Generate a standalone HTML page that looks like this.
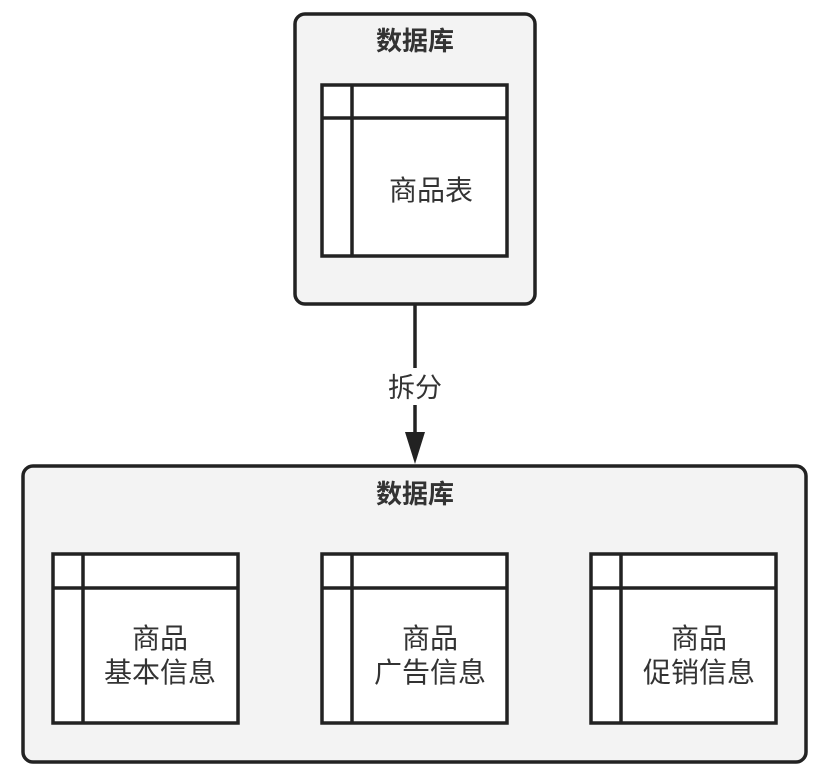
<!DOCTYPE html>
<html><head><meta charset="utf-8"><style>
body{margin:0;background:#fff;width:827px;height:780px;overflow:hidden}
svg{display:block}
text{font-family:"Liberation Sans","Noto Sans CJK SC",sans-serif;fill:#333}
</style></head><body>
<svg width="827" height="780" viewBox="0 0 827 780">
<rect x="295" y="14" width="240" height="290" rx="10" fill="#f3f3f3" stroke="#222" stroke-width="3.5"/>
<text x="415" y="50" font-size="26" font-weight="bold" text-anchor="middle" fill="#222">数据库</text>
<rect x="322" y="85" width="185" height="171" fill="#fff" stroke="#222" stroke-width="3.5"/>
<line x1="322" y1="118" x2="507" y2="118" stroke="#222" stroke-width="3.5"/>
<line x1="352" y1="85" x2="352" y2="256" stroke="#222" stroke-width="3.5"/>
<text x="431" y="200" font-size="28" text-anchor="middle">商品表</text>

<line x1="415" y1="304" x2="415" y2="368" stroke="#222" stroke-width="3.5"/>
<line x1="415" y1="405" x2="415" y2="440" stroke="#222" stroke-width="3.5"/>
<polygon points="405,432 425,432 415,464" fill="#222"/>
<text x="415" y="397" font-size="27" text-anchor="middle">拆分</text>

<rect x="23" y="466" width="783" height="296" rx="10" fill="#f3f3f3" stroke="#222" stroke-width="3.5"/>
<text x="415" y="503" font-size="26" font-weight="bold" text-anchor="middle" fill="#222">数据库</text>

<rect x="53" y="554" width="185" height="169" fill="#fff" stroke="#222" stroke-width="3.5"/>
<line x1="53" y1="588" x2="238" y2="588" stroke="#222" stroke-width="3.5"/>
<line x1="83" y1="554" x2="83" y2="723" stroke="#222" stroke-width="3.5"/>
<text x="160" y="648" font-size="28" text-anchor="middle">商品</text>
<text x="160" y="682" font-size="28" text-anchor="middle">基本信息</text>

<rect x="322" y="554" width="185" height="169" fill="#fff" stroke="#222" stroke-width="3.5"/>
<line x1="322" y1="588" x2="507" y2="588" stroke="#222" stroke-width="3.5"/>
<line x1="352" y1="554" x2="352" y2="723" stroke="#222" stroke-width="3.5"/>
<text x="430" y="648" font-size="28" text-anchor="middle">商品</text>
<text x="430" y="682" font-size="28" text-anchor="middle">广告信息</text>

<rect x="591" y="554" width="185" height="169" fill="#fff" stroke="#222" stroke-width="3.5"/>
<line x1="591" y1="588" x2="776" y2="588" stroke="#222" stroke-width="3.5"/>
<line x1="621" y1="554" x2="621" y2="723" stroke="#222" stroke-width="3.5"/>
<text x="699" y="648" font-size="28" text-anchor="middle">商品</text>
<text x="699" y="682" font-size="28" text-anchor="middle">促销信息</text>
</svg>
</body></html>
